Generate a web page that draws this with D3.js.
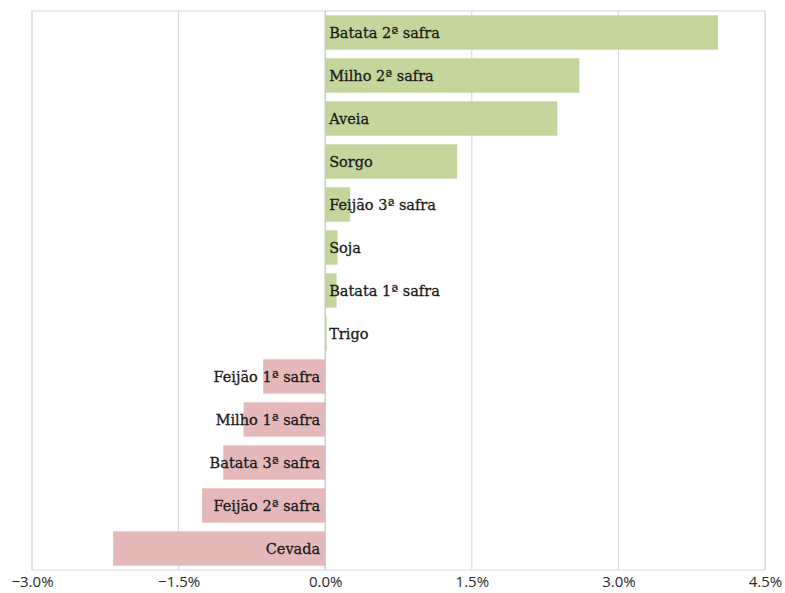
<!DOCTYPE html>
<html><head><meta charset="utf-8">
<script src="https://cdn.jsdelivr.net/npm/d3@7"></script>
<style>body{margin:0;background:#fff}</style>
</head><body>
<svg id="c" width="785" height="593"></svg>
<script>
const categories = ["Batata 2ª safra","Milho 2ª safra","Aveia","Sorgo","Feijão 3ª safra","Soja","Batata 1ª safra","Trigo","Feijão 1ª safra","Milho 1ª safra","Batata 3ª safra","Feijão 2ª safra","Cevada"];
const values = [4.02, 2.60, 2.375, 1.35, 0.256, 0.126, 0.116, 0.015, -0.634, -0.835, -1.043, -1.26, -2.17];
const tickValues = [-3.0, -1.5, 0.0, 1.5, 3.0, 4.5];

const svg = d3.select("#c");
const m = {left:32, top:11, right:20, bottom:23};
const W = 785, H = 593;
const x = d3.scaleLinear().domain([-3.0, 4.5]).range([m.left, W - m.right]);
const y = d3.scaleBand().domain(categories).range([m.top, H - m.bottom]).paddingInner(0.2).paddingOuter(0.1);

const gridColor = "#d6d6e4";
svg.append("g").selectAll("line").data(tickValues).join("line")
  .attr("x1", d => x(d)).attr("x2", d => x(d))
  .attr("y1", m.top).attr("y2", H - m.bottom)
  .attr("stroke", gridColor).attr("stroke-width", 1);
svg.append("rect").attr("x", m.left).attr("y", m.top)
  .attr("width", x(4.5) - m.left).attr("height", H - m.bottom - m.top)
  .attr("fill", "none").attr("stroke", gridColor);

const data = categories.map((c, i) => ({c, v: values[i]}));
svg.append("g").selectAll("rect").data(data).join("rect")
  .attr("x", d => x(Math.min(0, d.v))).attr("width", d => Math.abs(x(d.v) - x(0)))
  .attr("y", d => y(d.c)).attr("height", y.bandwidth())
  .attr("fill", d => d.v >= 0 ? "#c4d69c" : "#e5b9b9");

svg.append("line").attr("x1", x(0)).attr("x2", x(0)).attr("y1", m.top).attr("y2", H - m.bottom)
  .attr("stroke", "#c4c4d0");

svg.append("g").selectAll("text").data(data).join("text")
  .attr("x", d => d.v >= 0 ? x(0) + 4 : x(0) - 5)
  .attr("y", d => y(d.c) + y.bandwidth()/2)
  .attr("dy", "0.35em")
  .attr("text-anchor", d => d.v >= 0 ? "start" : "end")
  .attr("font-family", "'DejaVu Serif', serif").attr("font-size", 14.5)
  .attr("fill", "#1a1a1a").attr("stroke", "#1a1a1a").attr("stroke-width", 0.3)
  .text(d => d.c);

const axis = d3.axisBottom(x).tickValues(tickValues).tickFormat(d => d3.format(".1f")(d) + "%").tickSize(0).tickPadding(6);
const ga = svg.append("g").attr("transform", `translate(0,${H - m.bottom})`).call(axis);
ga.select(".domain").remove();
ga.selectAll("text").attr("font-family", "'Open Sans', sans-serif").attr("font-size", 15).attr("fill", "#2a2a2a");
</script>
</body></html>
